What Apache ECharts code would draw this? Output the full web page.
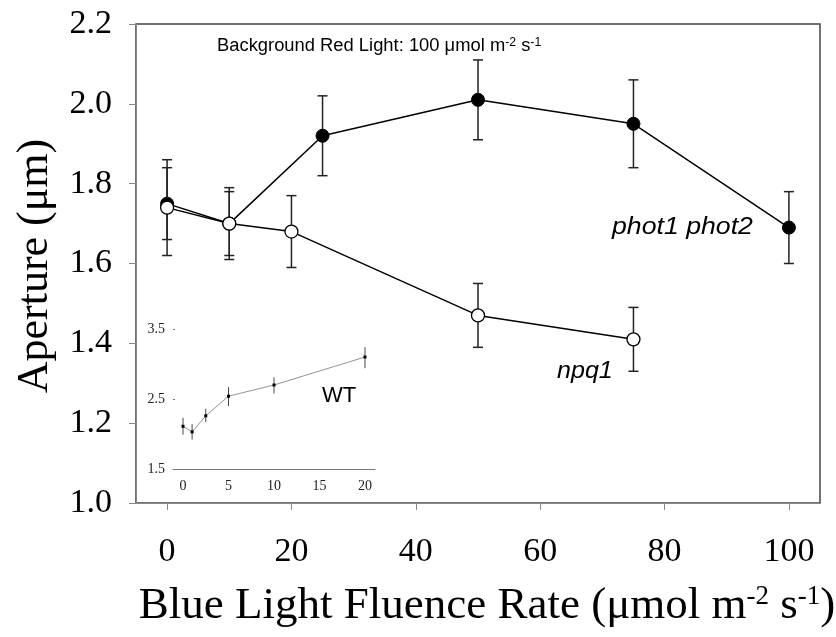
<!DOCTYPE html>
<html>
<head>
<meta charset="utf-8">
<script src="https://cdn.jsdelivr.net/npm/echarts@6/dist/echarts.min.js"></script>
<style>html,body{margin:0;padding:0;background:#fff;}#c{width:836px;height:637px;}</style>
</head>
<body>
<div id="c"></div>
<script>
// ---- main chart data ----
const photX = [0, 10, 25, 50, 75, 100];
const photMean = [1.75, 1.70, 1.92, 2.01, 1.95, 1.69];
const photLow = [1.62, 1.61, 1.82, 1.91, 1.84, 1.60];
const photHigh = [1.86, 1.79, 2.02, 2.11, 2.06, 1.78];

const npqX = [0, 10, 20, 50, 75];
const npqMean = [1.74, 1.70, 1.68, 1.47, 1.41];
const npqLow = [1.66, 1.62, 1.59, 1.39, 1.33];
const npqHigh = [1.84, 1.78, 1.77, 1.55, 1.49];

const xTicks = [0, 20, 40, 60, 80, 100];
const yTicks = [1.0, 1.2, 1.4, 1.6, 1.8, 2.0, 2.2];

// ---- inset (WT) data ----
const wtX = [0, 1, 2.5, 5, 10, 20];
const wtMean = [2.11, 2.03, 2.26, 2.54, 2.70, 3.10];
const wtLow = [1.99, 1.92, 2.17, 2.40, 2.58, 2.94];
const wtHigh = [2.23, 2.14, 2.36, 2.67, 2.81, 3.24];
const insetXTicks = [0, 5, 10, 15, 20];
const insetYTicks = [1.5, 2.5, 3.5];

const serif = '"Liberation Serif","Times New Roman",serif';
const sans = '"Liberation Sans",Arial,sans-serif';

function zip(xs, ys) { return xs.map((x, i) => [x, ys[i]]); }
function errData(xs, lo, hi) { return xs.map((x, i) => [x, lo[i], hi[i]]); }

function errRender(capHalf, width, color) {
  return function (params, api) {
    const x = api.value(0);
    const lo = api.coord([x, api.value(1)]);
    const hi = api.coord([x, api.value(2)]);
    const st = { stroke: color, lineWidth: width };
    const children = [
      { type: 'line', shape: { x1: lo[0], y1: lo[1], x2: hi[0], y2: hi[1] }, style: st }
    ];
    if (capHalf > 0) {
      children.push({ type: 'line', shape: { x1: lo[0] - capHalf, y1: lo[1], x2: lo[0] + capHalf, y2: lo[1] }, style: st });
      children.push({ type: 'line', shape: { x1: hi[0] - capHalf, y1: hi[1], x2: hi[0] + capHalf, y2: hi[1] }, style: st });
    }
    return { type: 'group', children: children };
  };
}

const chart = echarts.init(document.getElementById('c'), null, { renderer: 'canvas' });

const option = {
  backgroundColor: '#fff',
  animation: false,
  grid: [
    { left: 136, top: 24, right: 16, bottom: 134, show: true, borderColor: '#444', borderWidth: 1.5, backgroundColor: 'transparent' },
    { left: 173, top: 329, width: 202, height: 140, show: false }
  ],
  xAxis: [
    {
      gridIndex: 0, type: 'value', min: -5, max: 105,
      axisLine: { show: true, onZero: false, lineStyle: { color: '#888', width: 1 } },
      axisTick: { show: true, inside: false, length: 7, lineStyle: { color: '#888' }, customValues: xTicks },
      axisLabel: { customValues: xTicks, fontFamily: serif, fontSize: 34, color: '#000', margin: 32 },
      splitLine: { show: false }
    },
    {
      gridIndex: 1, type: 'value', min: -1.1, max: 21.1,
      axisLine: { show: true, onZero: false, lineStyle: { color: '#777', width: 1 } },
      axisTick: { show: false },
      axisLabel: { customValues: insetXTicks, fontFamily: serif, fontSize: 14, color: '#222', margin: 10 },
      splitLine: { show: false }
    }
  ],
  yAxis: [
    {
      gridIndex: 0, type: 'value', min: 1.0, max: 2.2, interval: 0.2,
      axisLine: { show: true, onZero: false, lineStyle: { color: '#888', width: 1 } },
      axisTick: { show: true, inside: false, length: 7, lineStyle: { color: '#888' } },
      axisLabel: { fontFamily: serif, fontSize: 34, color: '#000', margin: 24, formatter: v => v.toFixed(1) },
      splitLine: { show: false }
    },
    {
      gridIndex: 1, type: 'value', min: 1.5, max: 3.5,
      axisLine: { show: false, onZero: false },
      axisTick: { show: true, inside: true, length: 2, lineStyle: { color: '#777' }, customValues: insetYTicks },
      axisLabel: { customValues: insetYTicks, fontFamily: serif, fontSize: 14, color: '#222', margin: 8, formatter: v => v.toFixed(1) },
      splitLine: { show: false }
    }
  ],
  graphic: [
    {
      type: 'text', x: 217, y: 46, scaleX: 1.02, z: 100,
      style: {
        text: 'Background Red Light: 100 \u03bcmol m{sup|-2} s{sup|-1}',
        fontFamily: sans, fontSize: 18, fill: '#000', align: 'left', verticalAlign: 'middle',
        rich: { sup: { fontFamily: sans, fontSize: 12, verticalAlign: 'top', fill: '#000' } }
      }
    },
    {
      type: 'text', x: 612, y: 228, scaleX: 1.16, z: 100,
      style: { text: 'phot1 phot2', fontFamily: sans, fontSize: 23, fontStyle: 'italic', fill: '#000', align: 'left', verticalAlign: 'middle' }
    },
    {
      type: 'text', x: 557, y: 372, scaleX: 1.09, z: 100,
      style: { text: 'npq1', fontFamily: sans, fontSize: 23, fontStyle: 'italic', fill: '#000', align: 'left', verticalAlign: 'middle' }
    },
    {
      type: 'text', x: 322, y: 396, z: 100,
      style: { text: 'WT', fontFamily: sans, fontSize: 22, fill: '#000', align: 'left', verticalAlign: 'middle' }
    },
    {
      type: 'text', x: 35, y: 266, rotation: Math.PI / 2, z: 100,
      style: { text: 'Aperture (\u03bcm)', fontFamily: serif, fontSize: 44, fill: '#000', align: 'center', verticalAlign: 'middle' }
    },
    {
      type: 'text', x: 487, y: 606, z: 100,
      style: {
        text: 'Blue Light Fluence Rate (\u03bcmol m{sup|-2} s{sup|-1})',
        fontFamily: serif, fontSize: 45, fill: '#000', align: 'center', verticalAlign: 'middle',
        rich: { sup: { fontFamily: serif, fontSize: 27, verticalAlign: 'top', fill: '#000' } }
      }
    }
  ],
  series: [
    {
      type: 'custom', name: 'photErr', xAxisIndex: 0, yAxisIndex: 0, z: 2,
      renderItem: errRender(5, 1.5, '#222'),
      data: errData(photX, photLow, photHigh), encode: { x: 0, y: [1, 2] }, silent: true
    },
    {
      type: 'custom', name: 'npqErr', xAxisIndex: 0, yAxisIndex: 0, z: 2,
      renderItem: errRender(5, 1.5, '#222'),
      data: errData(npqX, npqLow, npqHigh), encode: { x: 0, y: [1, 2] }, silent: true
    },
    {
      type: 'line', name: 'phot1 phot2', xAxisIndex: 0, yAxisIndex: 0, z: 3,
      data: zip(photX, photMean), symbol: 'circle', symbolSize: 13,
      lineStyle: { color: '#000', width: 1.5 },
      itemStyle: { color: '#000', borderColor: '#000', borderWidth: 1 }
    },
    {
      type: 'line', name: 'npq1', xAxisIndex: 0, yAxisIndex: 0, z: 4,
      data: zip(npqX, npqMean), symbol: 'circle', symbolSize: 13,
      lineStyle: { color: '#000', width: 1.5 },
      itemStyle: { color: '#fff', borderColor: '#000', borderWidth: 1.3 }
    },
    {
      type: 'custom', name: 'wtErr', xAxisIndex: 1, yAxisIndex: 1, z: 2,
      renderItem: errRender(0, 0.9, '#333'),
      data: errData(wtX, wtLow, wtHigh), encode: { x: 0, y: [1, 2] }, silent: true
    },
    {
      type: 'line', name: 'WT', xAxisIndex: 1, yAxisIndex: 1, z: 3,
      data: zip(wtX, wtMean), symbol: 'rect', symbolSize: 3,
      lineStyle: { color: '#777', width: 0.8 },
      itemStyle: { color: '#000' }
    }
  ]
};
chart.setOption(option);
</script>
</body>
</html>
